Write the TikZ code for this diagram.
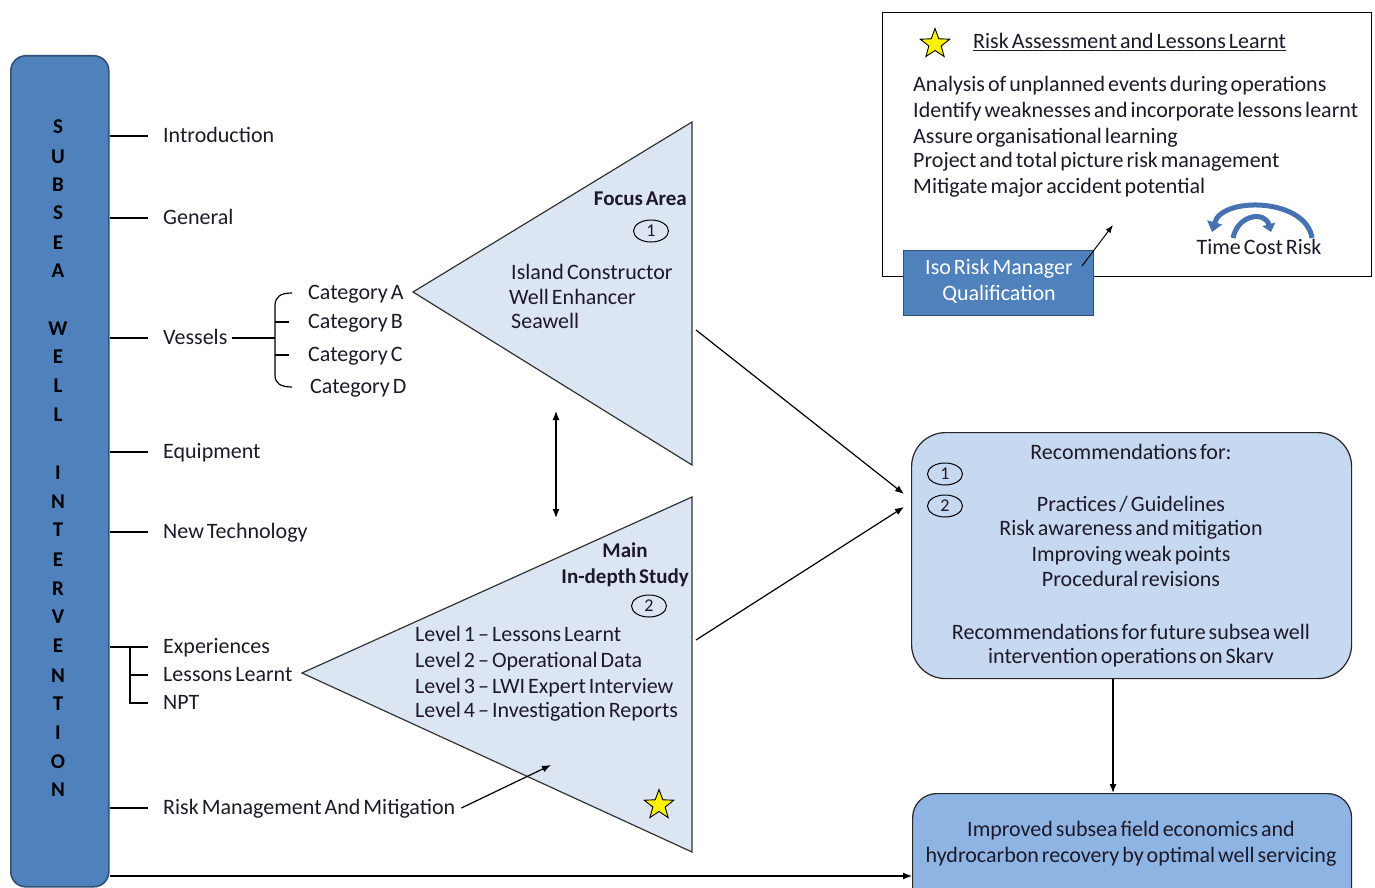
\documentclass[tikz,border=0pt]{standalone}
\usepackage{fontspec}
\setmainfont{Carlito}[WordSpace=0.6]
\usetikzlibrary{shapes.geometric,arrows.meta}

\definecolor{barblue}{RGB}{79,129,189}
\definecolor{barline}{RGB}{50,80,120}
\definecolor{trifill}{RGB}{220,230,242}
\definecolor{recfill}{RGB}{198,217,241}
\definecolor{outfill}{RGB}{141,180,226}
\definecolor{arcblue}{RGB}{70,114,176}
\definecolor{ink}{RGB}{30,25,40}

\begin{document}
\begin{tikzpicture}[x=1pt,y=-1pt,
  font=\fontsize{22}{26}\selectfont, text=ink,
  % labels are placed by the optical centre line of their text
  lbl/.style={anchor=base west, inner sep=0pt, yshift=-6.5pt},
  ctr/.style={anchor=base, inner sep=0pt, yshift=-6.5pt},
  rgt/.style={anchor=base east, inner sep=0pt, yshift=-6.5pt},
  letter/.style={inner sep=0pt, font=\fontsize{21}{21}\selectfont\bfseries, text=black},
  num/.style={draw, ellipse, minimum width=35pt, minimum height=22pt, inner sep=0pt,
              line width=1pt, font=\fontsize{18}{18}\selectfont},
  arr/.style={-{Latex[length=9pt,width=7pt]}, line width=1.2pt},
  tri/.style={draw=black!80, fill=trifill, line width=1.2pt, line join=miter},
  goldstar/.style={star, star points=5, star point ratio=2.4, draw=black, fill=yellow,
                   line width=0.9pt, minimum size=31pt, inner sep=0pt},
  branch/.style={line width=1.2pt}]

\path[use as bounding box] (0,0) rectangle (1375,888);

% ---------- the vertical title bar ----------
\node[draw=barline, fill=barblue, rounded corners=15pt, line width=1.6pt,
      minimum width=98pt, minimum height=831pt, anchor=north west, inner sep=0pt]
      (bar) at (10,55) {};
\foreach \c/\y [count=\i] in {S/127,U/157,B/185,S/213,E/243,A/271,
    W/329,E/357,L/386,L/415,
    I/473,N/502,T/530,E/560,R/589,V/617,E/646,N/676,T/704,I/733,O/762,N/790}
  \node[letter] (ch\i) at (58,\y) {\c};

% ---------- chapter labels ----------
\node[lbl] (intro)   at (163,136) {Introduction};
\node[lbl] (general) at (163,218) {General};
\node[lbl] (vessels) at (163,338) {Vessels};
\node[lbl] (equip)   at (163,452) {Equipment};
\node[lbl] (newtech) at (163,532) {New Technology};
\node[lbl] (exp)     at (163,647) {Experiences};
\node[lbl] (lessons) at (163,675) {Lessons Learnt};
\node[lbl] (npt)     at (163,703) {NPT};
\node[lbl] (riskm)   at (163,808) {Risk Management And Mitigation};

% branch ends sit 15pt before each label, on its centre line
\foreach \n in {intro,general,vessels,equip,newtech,exp,lessons,npt,riskm}
  \coordinate (end-\n) at ([xshift=-15pt,yshift=6.5pt]\n.base west);
\foreach \n in {intro,general,vessels,equip,newtech,exp,riskm}
  \draw[branch] (end-\n -| bar.east) -- (end-\n);

\coordinate (expspine) at (130,647);
\draw[branch] (expspine) |- (end-npt);
\draw[branch] (expspine |- end-lessons) -- (end-lessons);

% ---------- vessel categories ----------
\node[lbl] (catA) at (308,293) {Category A};
\node[lbl] (catB) at (308,322) {Category B};
\node[lbl] (catC) at (308,355) {Category C};
\node[lbl] (catD) at (310,387) {Category D};
\coordinate (vspine) at (275,338);
\draw[branch] ([xshift=4pt]vessels.east |- vspine) -- (vspine);
\draw[branch] (292,293) .. controls (280,293) and (275,297) .. (275,306)
              -- (275,375) .. controls (275,383) and (280,387) .. (292,387);
\draw[branch] (275,322) -- ++(14,0);
\draw[branch] (275,355) -- ++(14,0);

% ---------- focus area triangle ----------
\coordinate (fatip) at (413,292);
\coordinate (fatop) at (692,122);
\coordinate (fabot) at (692,465);
\draw[tri] (fatip) -- (fatop) -- (fabot) -- cycle;
\node[rgt, font=\fontsize{21}{21}\selectfont\bfseries] (fahead) at (687,199) {Focus Area};
\node[num] (fanum) at (651,231) {1};
\node[lbl] (fa1) at (511,273) {Island Constructor};
\node[lbl] (fa2) at (509,298) {Well Enhancer};
\node[lbl] (fa3) at (511,322) {Seawell};

% ---------- main study triangle ----------
\coordinate (mstip) at (302,673);
\coordinate (mstop) at (692,497);
\coordinate (msbot) at (692,852);
\draw[tri] (mstip) -- (mstop) -- (msbot) -- cycle;
\node[ctr, font=\fontsize{21}{21}\selectfont\bfseries] (mshead1) at (625,551) {Main};
\node[rgt, font=\fontsize{21}{21}\selectfont\bfseries] (mshead2) at (689,577) {In-depth Study};
\node[num] (msnum) at (649,606) {2};
\node[lbl] (ms1) at (415,635) {Level 1 -- Lessons Learnt};
\node[lbl] (ms2) at (415,661) {Level 2 -- Operational Data};
\node[lbl] (ms3) at (415,687) {Level 3 -- LWI Expert Interview};
\node[lbl] (ms4) at (415,711) {Level 4 -- Investigation Reports};
\node[goldstar] (msstar) at (659,805) {};

% link between the two studies
\coordinate (linktop) at (556,411);
\coordinate (linkbot) at (556,518);
\draw[arr, {Latex[length=9pt,width=7pt]}-{Latex[length=9pt,width=7pt]}] (linktop) -- (linkbot);

% risk management feeds the study
\coordinate (riskin) at (551,765);
\draw[arr] ([xshift=6pt,yshift=6.5pt]riskm.base east) -- (riskin);

% ---------- recommendations ----------
\node[draw=black!85, fill=recfill, rounded corners=34pt, line width=1.2pt,
      minimum width=440pt, minimum height=246pt, anchor=north west, inner sep=0pt]
      (rec) at (911,432) {};
\node[ctr] (rec0) at (1131,453) {Recommendations for:};
\node[num] (recnum1) at (945,474) {1};
\node[num] (recnum2) at (945,506) {2};
\node[ctr] (rec1) at (1131,505) {Practices / Guidelines};
\node[ctr] (rec2) at (1131,529) {Risk awareness and mitigation};
\node[ctr] (rec3) at (1131,555) {Improving weak points};
\node[ctr] (rec4) at (1131,580) {Procedural revisions};
\node[ctr] (rec5) at (1131,633) {Recommendations for future subsea well};
\node[ctr] (rec6) at (1131,657) {intervention operations on Skarv};

\coordinate (fafrom) at (696,330);
\coordinate (msfrom) at (696,640);
\coordinate (recin1) at (904,494);
\coordinate (recin2) at (904,507);
\draw[arr] (fafrom) -- (recin1);
\draw[arr] (msfrom) -- (recin2);

% ---------- outcome ----------
\node[draw=black!85, fill=outfill, rounded corners=24pt, line width=1.2pt,
      minimum width=439pt, minimum height=120pt, anchor=north west, inner sep=0pt]
      (out) at (912,793) {};
\node[ctr] (out1) at (1131,830) {Improved subsea field economics and};
\node[ctr] (out2) at (1131,856) {hydrocarbon recovery by optimal well servicing};

\draw[arr] (rec.south -| 1113,0) -- (out.north -| 1113,0);
\draw[arr] (bar.east |- 0,876) -- (out.west |- 0,876);

% ---------- risk assessment panel ----------
\node[draw=black, fill=white, line width=1.3pt, minimum width=489pt, minimum height=264pt,
      anchor=north west, inner sep=0pt] (risk) at (882,12) {};
\node[goldstar] (riskstar) at (935,44) {};
\node[lbl] (risktitle) at (973,42) {\underline{Risk Assessment and Lessons Learnt}};
\node[lbl] (r1) at (913,85)  {Analysis of unplanned events during operations};
\node[lbl] (r2) at (913,111) {Identify weaknesses and incorporate lessons learnt};
\node[lbl] (r3) at (913,137) {Assure organisational learning};
\node[lbl] (r4) at (913,161) {Project and total picture risk management};
\node[lbl] (r5) at (913,187) {Mitigate major accident potential};
\node[ctr] (tcr) at (1259,248) {Time Cost Risk};

\draw[arcblue, line width=5pt, -{Triangle[length=10pt,width=15pt]}]
  (1312,238) .. controls (1306,198) and (1222,196) .. (1212,232);
\draw[arcblue, line width=5pt, -{Triangle[length=8pt,width=13pt]}]
  (1233,238) .. controls (1238,214) and (1265,211) .. (1271,232);

\node[draw=barline, fill=barblue, line width=1pt, minimum width=190pt, minimum height=65pt,
      anchor=north west, inner sep=0pt] (iso) at (903,250) {};
\node[ctr, text=white] (iso1) at (999,268) {Iso Risk Manager};
\node[ctr, text=white] (iso2) at (999,294) {Qualification};
\coordinate (isoto) at (1113,225);
\draw[-{Latex[length=8pt,width=6pt]}, line width=1pt] (1082,266) -- (isoto);

\end{tikzpicture}
\end{document}
